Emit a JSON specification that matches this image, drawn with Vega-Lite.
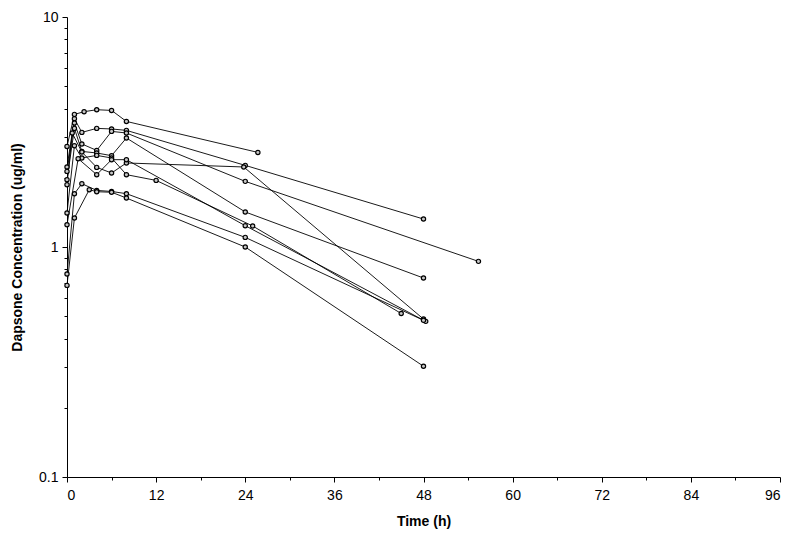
{
  "$schema": "https://vega.github.io/schema/vega-lite/v6.json",
  "width": 713,
  "height": 460,
  "autosize": {"type": "none"},
  "padding": {"left": 67, "top": 17, "right": 20, "bottom": 62},
  "background": "white",
  "config": {
    "view": {"stroke": null},
    "font": "Liberation Sans Narrow, Liberation Sans",
    "axis": {"grid": false, "domainColor": "black", "tickColor": "black", "labelColor": "black", "titleColor": "black", "labelFont": "Liberation Sans Narrow, Liberation Sans", "titleFont": "Liberation Sans Narrow, Liberation Sans", "labelFontSize": 14, "titleFontSize": 14, "titleFontWeight": "bold", "domainWidth": 1, "tickWidth": 1}
  },
  "data": {
    "values": [
      {"s": "S1", "t": 0, "c": 2.737}, {"s": "S1", "t": 1, "c": 3.772}, {"s": "S1", "t": 2.3, "c": 3.875}, {"s": "S1", "t": 4, "c": 3.953}, {"s": "S1", "t": 6, "c": 3.925}, {"s": "S1", "t": 8, "c": 3.516}, {"s": "S1", "t": 25.7, "c": 2.578},
      {"s": "S2", "t": 0, "c": 2.228}, {"s": "S2", "t": 1, "c": 3.613}, {"s": "S2", "t": 2, "c": 3.15}, {"s": "S2", "t": 4, "c": 3.279}, {"s": "S2", "t": 6, "c": 3.26}, {"s": "S2", "t": 8, "c": 3.214}, {"s": "S2", "t": 24, "c": 2.264}, {"s": "S2", "t": 48, "c": 1.323},
      {"s": "S3", "t": 0, "c": 2.132}, {"s": "S3", "t": 1, "c": 3.46}, {"s": "S3", "t": 2, "c": 2.805}, {"s": "S3", "t": 4, "c": 2.63}, {"s": "S3", "t": 6, "c": 3.182}, {"s": "S3", "t": 8, "c": 3.131}, {"s": "S3", "t": 24, "c": 1.929}, {"s": "S3", "t": 55.4, "c": 0.866},
      {"s": "S4", "t": 0, "c": 1.962}, {"s": "S4", "t": 1, "c": 3.279}, {"s": "S4", "t": 2, "c": 2.604}, {"s": "S4", "t": 4, "c": 2.563}, {"s": "S4", "t": 6, "c": 2.495}, {"s": "S4", "t": 8, "c": 2.978}, {"s": "S4", "t": 24, "c": 1.42}, {"s": "S4", "t": 48, "c": 0.733},
      {"s": "S5", "t": 0, "c": 1.866}, {"s": "S5", "t": 0.7, "c": 3.131}, {"s": "S5", "t": 2, "c": 2.588}, {"s": "S5", "t": 4, "c": 2.219}, {"s": "S5", "t": 6, "c": 2.098}, {"s": "S5", "t": 8, "c": 2.319}, {"s": "S5", "t": 23.8, "c": 2.228}, {"s": "S5", "t": 48, "c": 0.486},
      {"s": "S6", "t": 0, "c": 1.406}, {"s": "S6", "t": 1, "c": 2.757}, {"s": "S6", "t": 2, "c": 2.438}, {"s": "S6", "t": 4, "c": 2.502}, {"s": "S6", "t": 6, "c": 2.438}, {"s": "S6", "t": 8, "c": 2.063}, {"s": "S6", "t": 12, "c": 1.948}, {"s": "S6", "t": 25, "c": 1.234}, {"s": "S6", "t": 45, "c": 0.514},
      {"s": "S7", "t": 0, "c": 1.25}, {"s": "S7", "t": 1.5, "c": 2.421}, {"s": "S7", "t": 4, "c": 2.063}, {"s": "S7", "t": 6, "c": 2.397}, {"s": "S7", "t": 8, "c": 2.397}, {"s": "S7", "t": 24, "c": 1.238}, {"s": "S7", "t": 48.3, "c": 0.475},
      {"s": "S8", "t": 0, "c": 0.763}, {"s": "S8", "t": 1, "c": 1.705}, {"s": "S8", "t": 2, "c": 1.885}, {"s": "S8", "t": 4, "c": 1.762}, {"s": "S8", "t": 6, "c": 1.744}, {"s": "S8", "t": 8, "c": 1.705}, {"s": "S8", "t": 24, "c": 1.101}, {"s": "S8", "t": 48, "c": 0.48},
      {"s": "S9", "t": 0, "c": 0.681}, {"s": "S9", "t": 1, "c": 1.337}, {"s": "S9", "t": 3, "c": 1.775}, {"s": "S9", "t": 4, "c": 1.739}, {"s": "S9", "t": 6, "c": 1.73}, {"s": "S9", "t": 8, "c": 1.633}, {"s": "S9", "t": 24, "c": 1.0}, {"s": "S9", "t": 48, "c": 0.303}
    ]
  },
  "encoding": {
    "x": {
      "field": "t", "type": "quantitative",
      "scale": {"domain": [0, 96], "nice": false, "zero": false},
      "axis": {
        "title": "Time (h)", "titlePadding": 12,
        "values": [0, 6, 12, 18, 24, 30, 36, 42, 48, 54, 60, 66, 72, 78, 84, 90, 96],
        "labelExpr": "datum.value % 12 == 0 ? datum.value : ''",
        "tickSize": {"condition": {"test": "datum.value % 12 == 0", "value": 5}, "value": 3},
        "labelPadding": 6
      }
    },
    "y": {
      "field": "c", "type": "quantitative",
      "scale": {"type": "log", "domain": [0.1, 10], "nice": false},
      "axis": {
        "title": "Dapsone Concentration (ug/ml)", "titlePadding": 14,
        "values": [0.1, 0.2, 0.3, 0.4, 0.5, 0.6, 0.7, 0.8, 0.9, 1, 2, 3, 4, 5, 6, 7, 8, 9, 10],
        "labelExpr": "(datum.value == 0.1 || datum.value == 1 || datum.value == 10) ? datum.label : ''",
        "format": "~g",
        "tickSize": {"condition": {"test": "datum.value == 0.1 || datum.value == 1 || datum.value == 10", "value": 5}, "value": 3},
        "labelPadding": 4
      }
    },
    "detail": {"field": "s"}
  },
  "layer": [
    {"mark": {"type": "line", "color": "black", "strokeWidth": 0.9}, "encoding": {"order": {"field": "t"}}},
    {"mark": {"type": "point", "filled": false, "shape": "circle", "color": "black", "fill": "#c8c8c8", "fillOpacity": 1, "strokeWidth": 1.2, "size": 18}}
  ]
}
